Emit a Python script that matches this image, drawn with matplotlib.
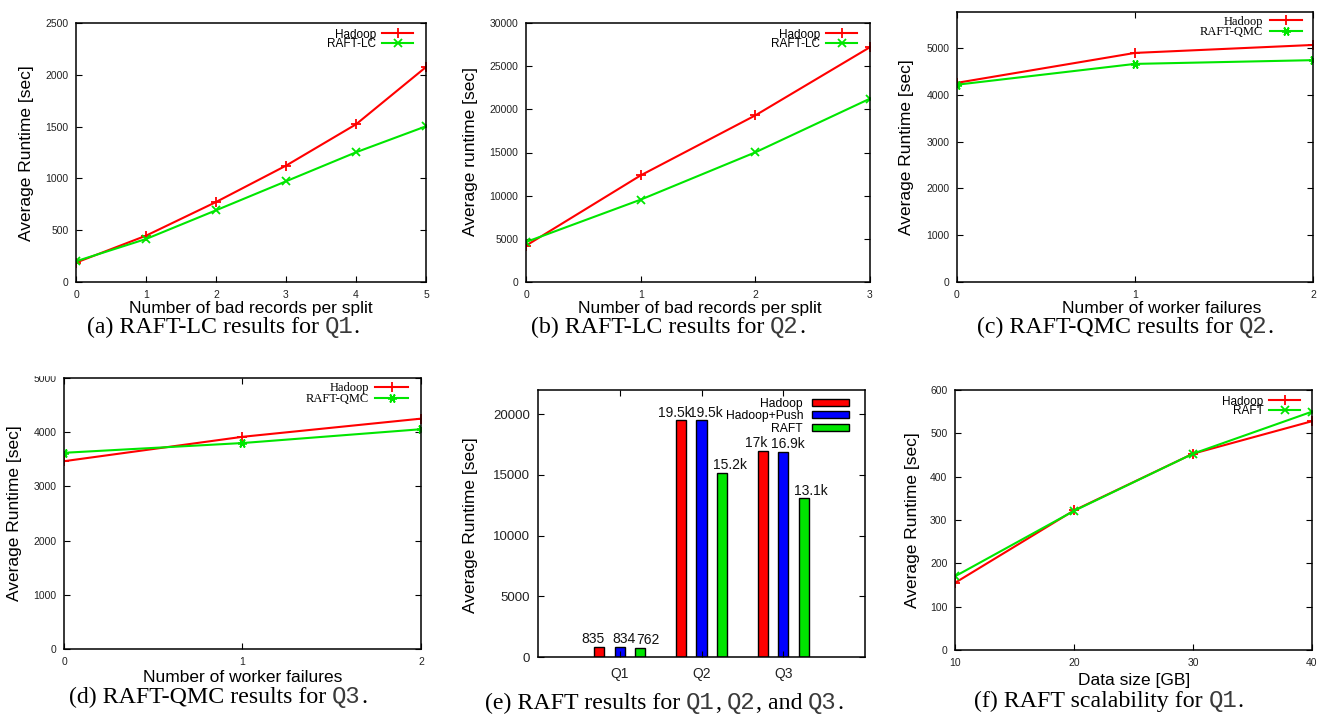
import matplotlib
matplotlib.use('Agg')
import matplotlib.pyplot as plt
from matplotlib.patches import Rectangle
import numpy as np

plt.rcParams['font.family'] = ['Liberation Sans', 'DejaVu Sans']

W, H, DPI = 1320, 715, 100

# ---------------- data ----------------
a_x = [0, 1, 2, 3, 4, 5]
a_hadoop = [187, 447, 772, 1123, 1522, 2075]
a_raft = [200, 415, 692, 972, 1252, 1503]

b_x = [0, 1, 2, 3]
b_hadoop = [4210, 12350, 19300, 27200]
b_raft = [4630, 9540, 15020, 21240]

c_x = [0, 1, 2]
c_hadoop = [4260, 4900, 5070]
c_raft = [4220, 4665, 4745]

d_x = [0, 1, 2]
d_hadoop = [3465, 3915, 4250]
d_raft = [3620, 3800, 4055]

e_queries = ['Q1', 'Q2', 'Q3']
e_hadoop = [835, 19500, 17000]
e_push = [834, 19500, 16900]
e_raft = [762, 15200, 13100]
e_hadoop_lbl = ['835', '19.5k', '17k']
e_push_lbl = ['834', '19.5k', '16.9k']
e_raft_lbl = ['762', '15.2k', '13.1k']

f_x = [10, 20, 30, 40]
f_hadoop = [155, 322, 453, 528]
f_raft = [170, 321, 453, 550]

RED = '#ff0000'
GREEN = '#00e600'
BLUE = '#0000ff'
SERIF = 'Liberation Serif'
MONO = 'Liberation Mono'

fig = plt.figure(figsize=(W / DPI, H / DPI), dpi=DPI)
fig.patch.set_facecolor('white')
renderer = fig.canvas.get_renderer()


def px_axes(l, t, r, b):
    ax = fig.add_axes([l / W, 1 - b / H, (r - l) / W, (b - t) / H])
    ax._pxrect = (l, t, r, b)
    return ax


def fr(ax, px, py):
    l, t, r, b = ax._pxrect
    return (px - l) / (r - l), (b - py) / (b - t)


def style(ax, top=False, ylab=7.5, xlab=7.5, xpad=5.5):
    for s in ax.spines.values():
        s.set_linewidth(1.1)
    ax.tick_params(direction='in', length=4, width=0.8, right=True, top=top,
                   colors='black')
    ax.tick_params(axis='y', labelsize=ylab, pad=5.5, labelcolor='#222222')
    ax.tick_params(axis='x', labelsize=xlab, pad=xpad, labelcolor='#222222')


def set_ylabel(ax, text, px, py):
    ax.set_ylabel(text, fontsize=12.5, va='center', ha='center')
    ax.yaxis.set_label_coords(*fr(ax, px, py))


def set_xlabel(ax, text, px, py):
    ax.set_xlabel(text, fontsize=12.5, va='baseline', ha='center')
    ax.xaxis.set_label_coords(*fr(ax, px, py))


def caption(parts, cx, by, size=17.2):
    """parts: list of (text, family); text None means one word space."""
    gap = 0.25 * size * DPI / 72.0
    items = []
    total = 0.0
    for s, fam in parts:
        if s is None:
            items.append((None, gap))
            total += gap
            continue
        col = '#3a3a3a' if fam == MONO else 'black'
        t = fig.text(0, 1 - by / H, s, ha='left', va='baseline', fontsize=size,
                     family=fam, color=col)
        w = t.get_window_extent(renderer).width
        items.append((t, w))
        total += w
    x = cx - total / 2
    for t, w in items:
        if t is not None:
            t.set_x(x / W)
        x += w


def legend(ax, px_right, py_top, fontfamily='Liberation Sans', size=8.5,
           hl=2.6, spacing=-0.2):
    ax.legend(loc='upper right', bbox_to_anchor=fr(ax, px_right, py_top),
              borderpad=0, borderaxespad=0, frameon=False, markerfirst=False,
              handlelength=hl, handletextpad=0.5, labelspacing=spacing,
              prop={'family': fontfamily, 'size': size})


def lines(ax, x, h, r, rname, rmarker='x', rms=5.5):
    ax.plot(x, h, color=RED, lw=1.5, marker='+', ms=7, mew=1.3, label='Hadoop')
    ax.plot(x, r, color=GREEN, lw=1.5, marker=rmarker, ms=rms, mew=1.3, label=rname)


# ---------------- (a) ----------------
ax = px_axes(76, 23, 426, 282)
lines(ax, a_x, a_hadoop, a_raft, 'RAFT-LC')
ax.set_xlim(0, 5)
ax.set_ylim(0, 2500)
ax.set_xticks(a_x)
ax.set_yticks(np.arange(0, 2501, 500))
style(ax)
set_ylabel(ax, 'Average Runtime [sec]', 26, 153)
set_xlabel(ax, 'Number of bad records per split', 251, 313)
legend(ax, 413, 28.5)
caption([('(a) RAFT-LC results for', SERIF), (None, None), ('Q1', MONO), ('.', SERIF)], 223, 333)

# ---------------- (b) ----------------
ax = px_axes(526, 23, 870, 282)
lines(ax, b_x, b_hadoop, b_raft, 'RAFT-LC')
ax.set_xlim(0, 3)
ax.set_ylim(0, 30000)
ax.set_xticks(b_x)
ax.set_yticks(np.arange(0, 30001, 5000))
style(ax)
set_ylabel(ax, 'Average runtime [sec]', 470, 152)
set_xlabel(ax, 'Number of bad records per split', 700, 313)
legend(ax, 857, 28.5)
caption([('(b) RAFT-LC results for', SERIF), (None, None), ('Q2', MONO), ('.', SERIF)], 668, 333)

# ---------------- (c) ----------------
ax = px_axes(957, 12, 1313, 282)
lines(ax, c_x, c_hadoop, c_raft, 'RAFT-QMC', rmarker=(6, 2, 90), rms=6.5)
ax.set_xlim(0, 2)
ax.set_ylim(0, 5775)
ax.set_xticks(c_x)
ax.set_yticks(np.arange(0, 5001, 1000))
style(ax, top=True)
set_ylabel(ax, 'Average Runtime [sec]', 907, 147)
set_xlabel(ax, 'Number of worker failures', 1162, 313)
legend(ax, 1302, 15.5, fontfamily=SERIF, size=9, spacing=-0.12)
caption([('(c) RAFT-QMC results for', SERIF), (None, None), ('Q2', MONO), ('.', SERIF)], 1125, 333)

# ---------------- (d) ----------------
ax = px_axes(64, 378, 421, 649)
lines(ax, d_x, d_hadoop, d_raft, 'RAFT-QMC', rmarker=(6, 2, 90), rms=6.5)
ax.set_xlim(0, 2)
ax.set_ylim(0, 5000)
ax.set_xticks(d_x)
ax.set_yticks(np.arange(0, 5001, 1000))
style(ax, top=True)
set_ylabel(ax, 'Average Runtime [sec]', 15, 513)
set_xlabel(ax, 'Number of worker failures', 242.5, 682)
legend(ax, 408, 382, fontfamily=SERIF, size=9, spacing=-0.08)
caption([('(d) RAFT-QMC results for', SERIF), (None, None), ('Q3', MONO), ('.', SERIF)], 218, 703)

# ---------------- (e) ----------------
ax = px_axes(538, 390, 865, 657)
xc = np.arange(1, len(e_queries) + 1)
bw = 0.125
series = [(e_hadoop, e_hadoop_lbl, RED, 'Hadoop', -0.25, -4.5),
          (e_push, e_push_lbl, BLUE, 'Hadoop+Push', 0.0, 3.0),
          (e_raft, e_raft_lbl, GREEN, 'RAFT', 0.25, 5.5)]
for vals, lbls, col, name, off, dx in series:
    bars = ax.bar(xc + off, vals, width=bw, color=col, edgecolor='black',
                  linewidth=1.0, label=name)
    for rect, lb in zip(bars, lbls):
        ax.annotate(lb, (rect.get_x() + rect.get_width() / 2, rect.get_height()),
                    xytext=(dx, 0.3), textcoords='offset points', ha='center',
                    va='bottom', fontsize=10, color='#111111')
ax.set_xlim(0, 4)
ax.set_ylim(0, 22000)
ax.set_xticks(xc)
ax.set_xticklabels(e_queries)
ax.set_yticks(np.arange(0, 20001, 5000))
style(ax, top=True, ylab=9.5, xlab=10, xpad=7)
set_ylabel(ax, 'Average Runtime [sec]', 470, 525)
ax.legend(loc='upper right', bbox_to_anchor=fr(ax, 849, 397.5), borderpad=0,
          borderaxespad=0, frameon=False, markerfirst=False, handlelength=3.1,
          handleheight=0.55, handletextpad=0.7, labelspacing=0.05,
          prop={'family': 'Liberation Sans', 'size': 8.7})
caption([('(e) RAFT results for', SERIF), (None, None), ('Q1', MONO), (',', SERIF),
         (None, None), ('Q2', MONO), (', and', SERIF), (None, None), ('Q3', MONO),
         ('.', SERIF)], 664, 709)

# ---------------- (f) ----------------
ax = px_axes(955, 390, 1312, 650)
lines(ax, f_x, f_hadoop, f_raft, 'RAFT')
ax.set_xlim(10, 40)
ax.set_ylim(0, 600)
ax.set_xticks(f_x)
ax.set_yticks(np.arange(0, 601, 100))
style(ax)
set_ylabel(ax, 'Average Runtime [sec]', 913, 520)
set_xlabel(ax, 'Data size [GB]', 1134, 685)
legend(ax, 1300, 395.5)
caption([('(f) RAFT scalability for', SERIF), (None, None), ('Q1', MONO), ('.', SERIF)], 1109, 707)

# crop of the top tick label of panel (d), as in the source image
fig.patches.append(Rectangle((0, 1 - 375 / H), 440 / W, 20 / H,
                             transform=fig.transFigure, color='white', zorder=10))

fig.savefig('out.png', dpi=DPI)
